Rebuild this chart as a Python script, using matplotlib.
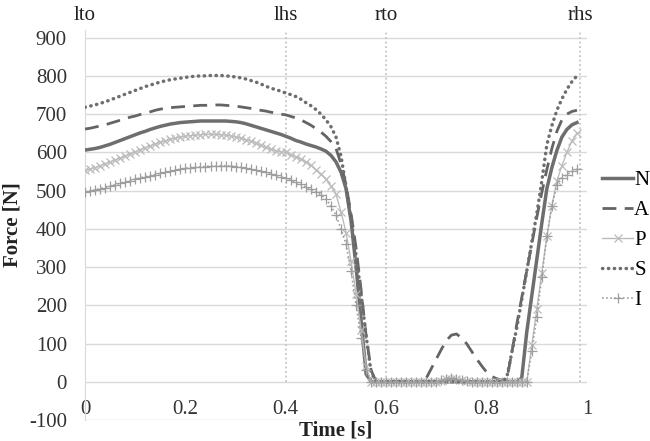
import matplotlib.pyplot as plt
import matplotlib.transforms as mtransforms
from matplotlib.ticker import FuncFormatter

plt.rcParams['font.family'] = ['Liberation Serif', 'DejaVu Serif']
plt.rcParams['font.size'] = 15
plt.rcParams['axes.unicode_minus'] = False

# time axis, sampled every 0.01 s (0 .. 0.98)
time = [round(0.01 * i, 2) for i in range(99)]

force_n = [606, 608, 610, 613, 617, 621, 626, 631, 636, 641,
           646, 651, 655, 660, 664, 668, 671, 674, 676, 678,
           679, 680, 681, 682, 682, 682, 682, 682, 682, 681,
           680, 678, 675, 671, 667, 663, 659, 655, 651, 647,
           642, 637, 631, 627, 622, 618, 614, 609, 603, 592,
           575, 548, 505, 420, 300, 160, 20, 0, 0, 0,
           0, 0, 0, 0, 0, 0, 0, 0, 0, 0,
           0, 0, 0, 0, 0, 0, 0, 0, 0, 0,
           0, 0, 0, 0, 0, 0, 0, 10, 130, 225,
           320, 415, 505, 560, 605, 640, 660, 672, 678]
force_a = [661, 663, 666, 669, 672, 676, 680, 684, 688, 692,
           695, 699, 702, 706, 710, 713, 715, 717, 718, 719,
           720, 721, 722, 723, 723, 724, 724, 724, 723, 722,
           721, 719, 717, 715, 712, 710, 708, 705, 703, 700,
           698, 694, 690, 685, 678, 671, 662, 653, 642, 628,
           610, 570, 515, 440, 350, 240, 120, 30, 0, 0,
           0, 0, 0, 0, 0, 0, 0, 0, 10, 35,
           60, 85, 108, 122, 125, 115, 100, 80, 60, 42,
           25, 14, 8, 4, 5, 75, 150, 220, 290, 360,
           430, 495, 555, 610, 655, 685, 700, 707, 710]
force_p = [553, 556, 560, 565, 570, 575, 580, 585, 590, 596,
           601, 607, 612, 617, 622, 626, 630, 634, 637, 640,
           642, 644, 645, 646, 647, 647, 647, 646, 645, 643,
           640, 637, 633, 629, 624, 618, 613, 608, 604, 602,
           600, 594, 588, 582, 575, 566, 555, 543, 530, 512,
           490, 445, 390, 315, 230, 135, 40, 0, 0, 0,
           0, 0, 0, 0, 0, 0, 0, 0, 0, 0,
           0, 3, 6, 8, 7, 4, 2, 0, 0, 0,
           0, 0, 0, 0, 0, 0, 0, 0, 0, 95,
           190, 285, 380, 460, 525, 565, 600, 630, 650]
force_s = [718, 721, 724, 728, 732, 737, 742, 747, 752, 757,
           762, 767, 772, 776, 780, 784, 787, 790, 792, 794,
           796, 798, 799, 800, 800, 801, 801, 801, 800, 799,
           797, 795, 792, 788, 784, 779, 773, 768, 764, 760,
           755, 751, 746, 739, 730, 722, 712, 700, 685, 667,
           640, 590, 510, 425, 330, 230, 120, 25, 0, 0,
           0, 0, 0, 0, 0, 0, 0, 0, 0, 0,
           0, 0, 0, 0, 0, 0, 0, 0, 0, 0,
           0, 0, 0, 0, 10, 75, 140, 215, 290, 365,
           440, 525, 620, 670, 710, 740, 765, 785, 800]
force_i = [497, 499, 502, 505, 508, 511, 515, 519, 522, 526,
           530, 533, 536, 539, 542, 545, 548, 551, 553, 556,
           558, 560, 561, 562, 563, 564, 565, 565, 565, 564,
           563, 561, 558, 556, 553, 551, 548, 544, 540, 536,
           532, 527, 522, 516, 510, 504, 497, 489, 478, 460,
           435, 400, 360, 290, 200, 115, 30, 0, 0, 0,
           0, 0, 0, 0, 0, 0, 0, 0, 0, 0,
           0, 4, 8, 10, 8, 4, 2, 0, 0, 0,
           0, 0, 0, 0, 0, 0, 0, 0, 0, 80,
           170, 275, 380, 460, 515, 532, 542, 550, 556]

events = ['lto', 'lhs', 'rto', 'rhs']
event_times = [0.0, 0.4, 0.6, 0.986]

fig = plt.figure(figsize=(6.5, 4.41), dpi=100)
ax = fig.add_axes([85 / 650, 1 - 420 / 441, 502 / 650, 390 / 441])

ax.plot(time, force_n, color='#6e6e6e', lw=2.5, label='N', zorder=3)
ax.plot(time, force_a, color='#646464', lw=2, dashes=(5, 3), label='A', zorder=3)
ax.plot(time, force_p, color='#bcbcbc', lw=1, marker='x', ms=6, mew=0.9,
        label='P', zorder=3)
ax.plot(time, force_s, color='#6e6e6e', lw=2.5, linestyle=(0, (0.1, 1.6)),
        dash_capstyle='round', solid_capstyle='round', label='S', zorder=3)
ax.plot(time, force_i, color='#9e9e9e', lw=1.2, linestyle=(0, (1, 1.5)),
        marker='+', ms=7, mew=0.9, label='I', zorder=3)

ax.set_xlim(0, 1)
ax.set_ylim(-100, 920)
ax.set_xticks([0, 0.2, 0.4, 0.6, 0.8, 1.0])
ax.set_yticks(range(-100, 1000, 100))
ax.xaxis.set_major_formatter(FuncFormatter(lambda v, p: f'{v:g}'))
ax.tick_params(length=0, colors='#333333', labelsize=15)
ax.tick_params(axis='x', pad=13)
ax.tick_params(axis='y', pad=13)

ax.grid(axis='y', color='#d9d9d9', lw=1)
ax.set_axisbelow(True)
for side in ['top', 'right', 'bottom']:
    ax.spines[side].set_visible(False)
ax.spines['bottom'].set_position(('data', 0))
ax.spines['left'].set_color('#d9d9d9')

trans = mtransforms.blended_transform_factory(ax.transData, fig.transFigure)
for name, t in zip(events, event_times):
    ax.axvline(t, ymin=100 / 1020, ymax=1, color='#c4c4c4', lw=1.3,
               linestyle=(0, (1, 1.5)), zorder=2)
    ax.text(t, 1 - 19.5 / 441, name, transform=trans, ha='center',
            va='baseline', fontsize=15, color='#222222')

fig.text(13 / 650, 1 - 225 / 441, 'Force [N]', rotation=90, fontsize=15,
         fontweight='bold', ha='center', va='center', color='#222222')
fig.text(336 / 650, 0.0, 'Time [s]', fontsize=15, fontweight='bold',
         ha='center', va='bottom', color='#222222')

ax.legend(loc='center left', bbox_to_anchor=(602 / 650, 1 - 240.5 / 441),
          bbox_transform=fig.transFigure, frameon=False, fontsize=15,
          handlelength=1.5, handletextpad=0.05, labelspacing=0.5,
          borderpad=0, borderaxespad=0)

fig.savefig('out.png', dpi=100)
